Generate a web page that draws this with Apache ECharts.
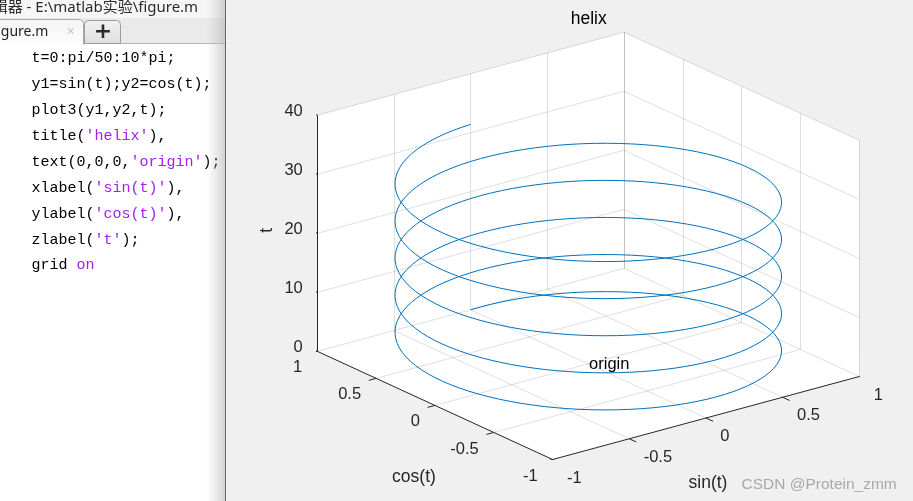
<!DOCTYPE html>
<html><head><meta charset="utf-8">
<script src="https://cdn.jsdelivr.net/npm/echarts@6/dist/echarts.min.js"></script>
<style>html,body{margin:0;padding:0;background:#f0f0f0;overflow:hidden}#c{width:913px;height:501px}</style>
</head><body><div id="c"></div>
<script>
// ---- data: exactly the MATLAB script shown in the editor ----
// t=0:pi/50:10*pi; y1=sin(t); y2=cos(t); plot3(y1,y2,t)
const tStep = Math.PI / 50;
const tCount = 501;
const t = [];
for (let i = 0; i < tCount; i++) t.push(i * tStep);
const y1 = t.map(Math.sin);
const y2 = t.map(Math.cos);

const xLim = [-1, 1];
const yLim = [-1, 1];
const zLim = [0, 40];
const xTicks = [-1, -0.5, 0, 0.5, 1];
const yTicks = [-1, -0.5, 0, 0.5, 1];
const zTicks = [0, 10, 20, 30, 40];
const xTickLabels = ['-1', '-0.5', '0', '0.5', '1'];
const yTickLabels = ['-1', '-0.5', '0', '0.5', '1'];
const zTickLabels = ['0', '10', '20', '30', '40'];
const titleText = 'helix';
const xLabelText = 'sin(t)';
const yLabelText = 'cos(t)';
const zLabelText = 't';
const originText = 'origin';
const originPoint = [0, 0, 0];

const windowTitle = '辑器 - E:\\matlab实验\\figure.m';
const tabTitle = 'figure.m';
const codeLines = [
  [['k', 't=0:pi/50:10*pi;']],
  [['k', 'y1=sin(t);y2=cos(t);']],
  [['k', 'plot3(y1,y2,t);']],
  [['k', 'title('], ['s', "'helix'"], ['k', '),']],
  [['k', 'text(0,0,0,'], ['s', "'origin'"], ['k', ');']],
  [['k', 'xlabel('], ['s', "'sin(t)'"], ['k', '),']],
  [['k', 'ylabel('], ['s', "'cos(t)'"], ['k', '),']],
  [['k', 'zlabel('], ['s', "'t'"], ['k', ');']],
  [['k', 'grid '], ['s', 'on']]
];
const watermark = 'CSDN @Protein_zmm';

// ---- MATLAB default 3-D view projection (az=-37.5, el=30) ----
const az = -37.5 * Math.PI / 180, el = 30 * Math.PI / 180;
function proj(x, y, z) {
  const xn = (x - (xLim[0] + xLim[1]) / 2) / (xLim[1] - xLim[0]);
  const yn = (y - (yLim[0] + yLim[1]) / 2) / (yLim[1] - yLim[0]);
  const zn = (z - (zLim[0] + zLim[1]) / 2) / (zLim[1] - zLim[0]);
  const u = Math.cos(az) * xn + Math.sin(az) * yn;
  const v = -Math.sin(el) * Math.sin(az) * xn + Math.sin(el) * Math.cos(az) * yn + Math.cos(el) * zn;
  return [u, v];
}
const corners = [];
for (const x of xLim) for (const y of yLim) for (const z of zLim) corners.push(proj(x, y, z));
const uMin = Math.min(...corners.map(c => c[0])), uMax = Math.max(...corners.map(c => c[0]));
const vMin = Math.min(...corners.map(c => c[1])), vMax = Math.max(...corners.map(c => c[1]));

const [x0, x1] = xLim, [yA, yB] = yLim, [z0, z1] = zLim;
// visible box face outline (floor + back walls)
const hull = [[x0, yB, z1], [x1, yB, z1], [x1, yA, z1], [x1, yA, z0], [x0, yA, z0], [x0, yB, z0]].map(p => proj(...p));

// grid segments
const gridSegs = [];
xTicks.filter(x => x !== x0).forEach(x => gridSegs.push([[x, yA, z0], [x, yB, z0]]));
yTicks.filter(y => y !== yA).forEach(y => gridSegs.push([[x0, y, z0], [x1, y, z0]]));
xTicks.filter(x => x !== x0).forEach(x => gridSegs.push([[x, yB, z0], [x, yB, z1]]));
zTicks.filter(z => z !== z0).forEach(z => gridSegs.push([[x0, yB, z], [x1, yB, z]]));
yTicks.forEach(y => gridSegs.push([[x1, y, z0], [x1, y, z1]]));
zTicks.filter(z => z !== z0).forEach(z => gridSegs.push([[x1, yA, z], [x1, yB, z]]));

// axis lines + ticks
const tx = 0.048, ty = 0.06;
const axisSegs = [
  [[x0, yA, z0], [x1, yA, z0]],
  [[x0, yA, z0], [x0, yB, z0]],
  [[x0, yB, z0], [x0, yB, z1]]
];
xTicks.forEach(x => axisSegs.push([[x, yA, z0], [x, yA - ty, z0]]));
yTicks.forEach(y => axisSegs.push([[x0, y, z0], [x0 - tx, y, z0]]));
zTicks.forEach(z => axisSegs.push([[x0, yB, z], [x0, yB + ty, z]]));

const toLines = segs => segs.map(s => ({ coords: [proj(...s[0]), proj(...s[1])] }));

const FONT = '"Liberation Sans", Arial, sans-serif';
const AX = '#262626';

function textSeries(points, texts, o) {
  return {
    type: 'custom', coordinateSystem: 'cartesian2d', silent: true, animation: false, z: 20,
    data: points,
    renderItem(params, api) {
      const c = api.coord([api.value(0), api.value(1)]);
      return {
        type: 'text', x: c[0] + o.dx, y: c[1] + o.dy, rotation: o.rot || 0,
        style: {
          text: texts[params.dataIndex], font: o.font, fill: o.color,
          align: o.align, verticalAlign: o.va, textAlign: o.align, textVerticalAlign: o.va
        }
      };
    }
  };
}

// ---- editor panel graphics ----
const graphic = [
  { type: 'rect', shape: { x: 0, y: 0, width: 225, height: 501 }, style: { fill: '#ffffff' }, z: 0 },
  { type: 'rect', shape: { x: 0, y: 0, width: 225, height: 18 }, style: { fill: '#f6f6f6' }, z: 1 },
  { type: 'rect', shape: { x: 0, y: 18, width: 225, height: 25 }, style: { fill: '#eaeaea' }, z: 1 },
  { type: 'line', shape: { x1: 0, y1: 43.5, x2: 225, y2: 43.5 }, style: { stroke: '#b4b4b4', lineWidth: 1 }, z: 2 },
  { type: 'rect', shape: { x: -6, y: 19.5, width: 89.5, height: 25, r: [0, 4, 0, 0] },
    style: { fill: { type: 'linear', x: 0, y: 0, x2: 0, y2: 1, colorStops: [{ offset: 0, color: '#f4f4f4' }, { offset: 1, color: '#fdfdfd' }] }, stroke: '#a8a8a8', lineWidth: 1 }, z: 3 },
  { type: 'rect', shape: { x: 0, y: 43, width: 83, height: 3 }, style: { fill: '#fdfdfd' }, z: 4 },
  { type: 'rect', shape: { x: 84.5, y: 20.5, width: 36, height: 23, r: [4, 4, 0, 0] },
    style: { fill: { type: 'linear', x: 0, y: 0, x2: 0, y2: 1, colorStops: [{ offset: 0, color: '#f2f2f2' }, { offset: 1, color: '#dedede' }] }, stroke: '#9c9c9c', lineWidth: 1 }, z: 3 },
  { type: 'text', x: -7.3, y: 7.5, style: { text: windowTitle, font: '15px "Noto Sans", "Noto Sans CJK SC", sans-serif', fill: '#2b2b2b', align: 'left', verticalAlign: 'middle', textAlign: 'left', textVerticalAlign: 'middle' }, z: 5 },
  { type: 'text', x: -7.6, y: 32, style: { text: tabTitle, font: '14px "Noto Sans", sans-serif', fill: '#1e1e1e', align: 'left', verticalAlign: 'middle', textAlign: 'left', textVerticalAlign: 'middle' }, z: 5 },
  { type: 'text', x: 70.5, y: 32.5, style: { text: '✕', font: 'bold 11px "DejaVu Sans", sans-serif', fill: '#c8c8c8', align: 'center', verticalAlign: 'middle', textAlign: 'center', textVerticalAlign: 'middle' }, z: 5 },
  { type: 'text', x: 103, y: 32.5, style: { text: '+', font: 'bold 22px "DejaVu Sans", sans-serif', fill: '#2a2a2a', align: 'center', verticalAlign: 'middle', textAlign: 'center', textVerticalAlign: 'middle' }, z: 5 },
  { type: 'rect', shape: { x: 206, y: 0, width: 19, height: 501 },
    style: { fill: { type: 'linear', x: 0, y: 0, x2: 1, y2: 0, colorStops: [{ offset: 0, color: 'rgba(200,200,200,0)' }, { offset: 1, color: 'rgba(170,170,170,0.55)' }] } }, z: 6 },
  { type: 'line', shape: { x1: 225.5, y1: 0, x2: 225.5, y2: 501 }, style: { stroke: '#6a6a6a', lineWidth: 1 }, z: 7 },
  { type: 'text', x: 741.5, y: 484.5, style: { text: watermark, font: '15.5px "Liberation Sans", Arial, sans-serif', fill: '#a8a8a8', align: 'left', verticalAlign: 'middle', textAlign: 'left', textVerticalAlign: 'middle' }, z: 100 }
];
codeLines.forEach((segs, i) => {
  graphic.push({
    type: 'text', x: 31.5, y: 58.3 + 25.9 * i, z: 5,
    style: {
      text: segs.map(s => '{' + s[0] + '|' + s[1] + '}').join(''),
      font: '15px "Liberation Mono", monospace', align: 'left', verticalAlign: 'middle', textAlign: 'left', textVerticalAlign: 'middle',
      rich: {
        k: { fill: '#000000', font: '15px "Liberation Mono", monospace' },
        s: { fill: '#a020f0', font: '15px "Liberation Mono", monospace' }
      }
    }
  });
});

const chart = echarts.init(document.getElementById('c'), null, { renderer: 'canvas' });
chart.setOption({
  animation: false,
  backgroundColor: '#f0f0f0',
  graphic: graphic,
  grid: { left: 317.3, top: 32.2, width: 542, height: 427.3, show: false },
  xAxis: { type: 'value', min: uMin, max: uMax, show: false },
  yAxis: { type: 'value', min: vMin, max: vMax, show: false },
  series: [
    {
      type: 'custom', coordinateSystem: 'cartesian2d', silent: true, z: 1, data: [hull[0]],
      renderItem(params, api) {
        return { type: 'polygon', shape: { points: hull.map(p => api.coord(p)) }, style: { fill: '#ffffff' } };
      }
    },
    { type: 'lines', coordinateSystem: 'cartesian2d', silent: true, z: 2, data: toLines(gridSegs),
      lineStyle: { color: AX, opacity: 0.15, width: 1, curveness: 0 } },
    { type: 'line', silent: true, z: 3, showSymbol: false, symbol: 'none',
      data: t.map((ti, i) => proj(y1[i], y2[i], ti)),
      lineStyle: { color: '#0072bd', width: 1 } },
    { type: 'lines', coordinateSystem: 'cartesian2d', silent: true, z: 4, data: toLines(axisSegs),
      lineStyle: { color: AX, opacity: 1, width: 1, curveness: 0 } },
    textSeries(xTicks.map(x => proj(x, yA, z0)), xTickLabels, { dx: 14.4, dy: 18.7, font: '16.5px ' + FONT, color: AX, align: 'left', va: 'middle' }),
    textSeries(yTicks.map(y => proj(x0, y, z0)), yTickLabels, { dx: -15, dy: 16.5, font: '16.5px ' + FONT, color: AX, align: 'right', va: 'middle' }),
    textSeries(zTicks.map(z => proj(x0, yB, z)), zTickLabels, { dx: -14.5, dy: -4, font: '16.5px ' + FONT, color: AX, align: 'right', va: 'middle' }),
    textSeries([proj((x0 + x1) / 2, yA, z0)], [xLabelText], { dx: 2, dy: 65, font: '17.5px ' + FONT, color: AX, align: 'center', va: 'middle' }),
    textSeries([proj(x0, (yA + yB) / 2, z0)], [yLabelText], { dx: -21, dy: 71.5, font: '17.5px ' + FONT, color: AX, align: 'center', va: 'middle' }),
    textSeries([proj(x0, yB, (z0 + z1) / 2)], [zLabelText], { dx: -50, dy: -3, rot: Math.PI / 2, font: '17.5px ' + FONT, color: AX, align: 'center', va: 'middle' }),
    textSeries([[(uMin + uMax) / 2, vMax]], [titleText], { dx: 0.4, dy: -13.2, font: '17.5px ' + FONT, color: '#000000', align: 'center', va: 'middle' }),
    textSeries([proj(...originPoint)], [originText], { dx: 0.8, dy: 0.5, font: '16.5px ' + FONT, color: '#000000', align: 'left', va: 'middle' })
  ]
});
</script>
</body></html>
